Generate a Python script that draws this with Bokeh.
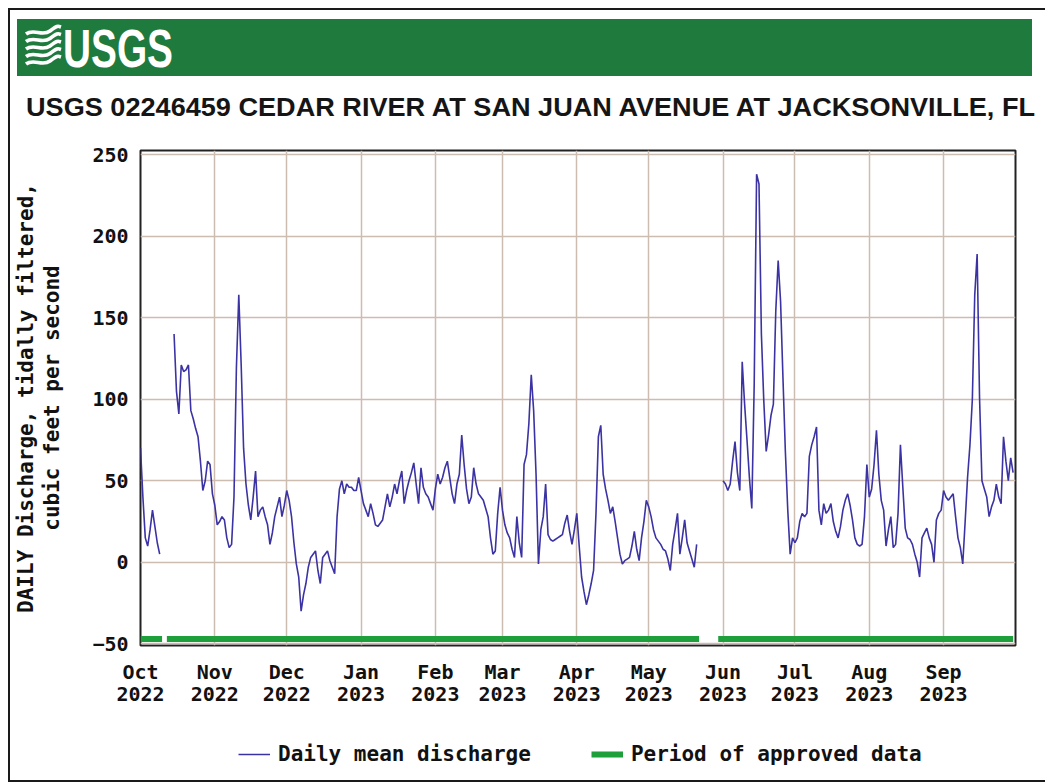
import numpy as np
import pandas as pd
from bokeh.plotting import figure
from bokeh.layouts import column
from bokeh.models import (Range1d, FixedTicker, DatetimeTickFormatter, Legend,
                          LegendItem, DatetimeAxis, LinearAxis, Div)
from bokeh.embed import file_html
from bokeh.resources import INLINE

nan = float("nan")

# ---------------- data (daily mean discharge, ft3/s) ----------------
oct_2022 = [70, 40, 15, 10, 20, 32, 22, 12, 5, nan, nan, nan, nan, nan,
            140, 105, 91, 121, 117, 118, 121, 93, 88, 82, 77, 62, 44, 50, 62, 60, 42]
nov_2022 = [35, 23, 25, 28, 26, 15, 9, 11, 40, 119, 164, 121, 70, 48, 35, 26, 40, 56,
            28, 32, 34, 28, 23, 11, 18, 28, 34, 40, 28, 35]
dec_2022 = [44, 38, 28, 12, -1, -9, -30, -20, -13, -3, 3, 5, 7, -5, -13, 3, 5, 7, 1,
            -3, -7, 28, 45, 50, 42, 48, 46, 46, 44, 44, 52]
jan_2023 = [44, 36, 32, 28, 36, 30, 23, 22, 24, 26, 34, 42, 34, 40, 48, 42, 50, 56,
            36, 44, 50, 55, 61, 48, 36, 58, 46, 42, 40, 36, 32]
feb_2023 = [45, 54, 48, 52, 58, 62, 52, 42, 36, 48, 54, 78, 60, 45, 36, 40, 58, 48,
            42, 40, 38, 33, 28, 15, 5, 7, 30, 46]
mar_2023 = [32, 23, 18, 15, 8, 3, 28, 12, 3, 60, 66, 85, 115, 93, 54, -1, 20, 28, 48,
            17, 14, 13, 14, 15, 16, 17, 24, 29, 19, 11, 20]
apr_2023 = [30, 10, -9, -18, -26, -20, -13, -5, 30, 77, 84, 54, 45, 38, 30, 34, 25,
            15, 5, -1, 1, 2, 3, 10, 19, 8, 1, 15, 25, 38]
may_2023 = [34, 28, 20, 15, 13, 11, 8, 7, 2, -5, 11, 20, 30, 5, 15, 26, 12, 7, 2, -3,
            11, nan, nan, nan, nan, nan, nan, nan, nan, nan, nan]
jun_2023 = [50, 48, 44, 48, 62, 74, 55, 44, 123, 97, 75, 52, 33, 109, 238, 232, 140,
            99, 68, 78, 90, 97, 154, 185, 160, 113, 68, 32, 5, 15]
jul_2023 = [12, 15, 25, 30, 28, 30, 65, 72, 77, 83, 32, 23, 36, 30, 32, 36, 25, 19,
            15, 22, 32, 38, 42, 35, 26, 15, 11, 10, 11, 28, 60]
aug_2023 = [40, 45, 60, 81, 54, 38, 32, 10, 20, 28, 9, 11, 30, 72, 46, 21, 15, 14, 11,
            5, 0, -9, 15, 18, 21, 15, 11, 0, 26, 30, 32]
sep_2023 = [44, 40, 38, 40, 42, 28, 15, 9, -1, 25, 52, 72, 100, 164, 189, 101, 50, 45,
            40, 28, 34, 38, 48, 40, 36, 77, 62, 50, 64, 55]

discharge = (oct_2022 + nov_2022 + dec_2022 + jan_2023 + feb_2023 + mar_2023 +
             apr_2023 + may_2023 + jun_2023 + jul_2023 + aug_2023 + sep_2023)
dates = pd.date_range("2022-10-01", periods=len(discharge), freq="D")

approved_start = pd.to_datetime(["2022-10-01", "2022-10-12", "2023-05-30"])
approved_end = pd.to_datetime(["2022-10-10", "2023-05-22", "2023-09-30"])

month_ticks = pd.date_range("2022-10-01", "2023-09-01", freq="MS")
y_ticks = [-50, 0, 50, 100, 150, 200, 250]

TITLE = "USGS 02246459 CEDAR RIVER AT SAN JUAN AVENUE AT JACKSONVILLE, FL"
Y_LABEL_1 = "DAILY Discharge, tidally filtered,"
Y_LABEL_2 = "cubic feet per second"
LEGEND_LINE = "Daily mean discharge"
LEGEND_BAR = "Period of approved data"

# ---------------- styling ----------------
W = 1035
MONO = "DejaVu Sans Mono"
HEADER_GREEN = "#1f7a3e"
LINE_COLOR = "#3b33a3"
BAR_GREEN = "#1f9e3c"
GRID_COLOR = "#cdbcb0"
TEXT = "#111111"
BL, BR = 130, 30

# ---------------- header (green band, logo, title) ----------------
waves = ""
for k in range(5):
    y0 = 22 + 7.5 * k
    waves += ('<path d="M16,{a:.1f} C24,{b:.1f} 32,{c:.1f} 40,{d:.1f} S48,{e:.1f} 51,{f:.1f}" '
              'stroke="white" stroke-width="3.6" fill="none"/>').format(
        a=y0 + 2, b=y0 - 4, c=y0 + 5, d=y0 - 1, e=y0 - 6, f=y0 - 5)
header_svg = (
    '<svg xmlns="http://www.w3.org/2000/svg" width="{w}" height="120" '
    'style="display:block">'
    '<rect x="0" y="0" width="{w}" height="120" fill="white"/>'
    '<rect x="7" y="9" width="1015" height="57" fill="{g}"/>'
    '{waves}'
    '<text x="53" y="57" font-family="Liberation Sans Narrow" font-weight="bold" '
    'font-size="54" fill="white" textLength="110" lengthAdjust="spacingAndGlyphs">USGS</text>'
    '<text x="16" y="106" font-family="Liberation Sans" font-weight="bold" '
    'font-size="25.5" fill="#151515" textLength="1009" '
    'lengthAdjust="spacingAndGlyphs">{t}</text>'
    '</svg>').format(w=W, g=HEADER_GREEN, waves=waves, t=TITLE)
header = Div(text=header_svg, width=W, height=120,
             styles={"margin": "0", "padding": "0"})

# ---------------- main plot ----------------
p = figure(width=W, height=581, x_axis_type="datetime",
           x_range=Range1d(start=pd.Timestamp("2022-10-01"), end=pd.Timestamp("2023-10-01")),
           y_range=Range1d(-51, 252.5),
           toolbar_location=None, output_backend="svg",
           min_border_left=BL, min_border_right=BR, min_border_top=20,
           min_border_bottom=66)
p.background_fill_color = "white"
p.border_fill_color = "white"
p.outline_line_color = "#222222"
p.outline_line_width = 2

r_line = p.line(x=dates, y=discharge, line_color=LINE_COLOR, line_width=1.6)
r_bar = p.segment(x0=approved_start, x1=approved_end, y0=-47, y1=-47,
                  line_color=BAR_GREEN, line_width=6)

tick_ms = [t.value / 1e6 for t in month_ticks]
p.xaxis.ticker = FixedTicker(ticks=tick_ms)
p.xaxis.formatter = DatetimeTickFormatter(days="%b", months="%b", years="%b")
year_axis = DatetimeAxis(ticker=FixedTicker(ticks=tick_ms),
                         formatter=DatetimeTickFormatter(days="%Y", months="%Y",
                                                         years="%Y"))
p.add_layout(year_axis, "below")

p.yaxis.ticker = FixedTicker(ticks=y_ticks)
p.yaxis.axis_label = Y_LABEL_2
label_axis = LinearAxis(ticker=FixedTicker(ticks=[]), axis_label=Y_LABEL_1)
p.add_layout(label_axis, "left")

for ax in (p.xaxis[0], year_axis, p.yaxis[0], label_axis):
    ax.axis_line_color = None
    ax.major_tick_line_color = None
    ax.minor_tick_line_color = None
    ax.major_tick_out = 0
    ax.major_tick_in = 0
    ax.minor_tick_out = 0
    ax.major_label_text_font = MONO
    ax.major_label_text_font_style = "bold"
    ax.major_label_text_font_size = "20px"
    ax.major_label_text_color = TEXT
    ax.axis_label_text_font = MONO
    ax.axis_label_text_font_style = "bold"
    ax.axis_label_text_font_size = "21px"
    ax.axis_label_text_color = TEXT
p.xaxis[0].major_label_standoff = 14
year_axis.major_label_standoff = 0
p.yaxis[0].major_label_standoff = 12
p.yaxis[0].axis_label_standoff = 25
label_axis.axis_label_standoff = 0
label_axis.major_label_standoff = 0

p.xgrid.grid_line_color = GRID_COLOR
p.ygrid.grid_line_color = GRID_COLOR
p.xgrid.grid_line_width = 1.5
p.ygrid.grid_line_width = 1.5

# ---------------- footer legend ----------------
foot = figure(width=W, height=69, x_range=Range1d(0, 1), y_range=Range1d(0, 1),
              toolbar_location=None, output_backend="svg",
              min_border_left=BL, min_border_right=BR, min_border_top=0,
              min_border_bottom=0)
foot.axis.visible = False
foot.grid.visible = False
foot.outline_line_color = None
foot.background_fill_color = "white"
foot.border_fill_color = "white"
leg_line = foot.line(x=[nan], y=[nan], line_color=LINE_COLOR, line_width=1.6)
leg_bar = foot.line(x=[nan], y=[nan], line_color=BAR_GREEN, line_width=6)
legend = Legend(items=[LegendItem(label=LEGEND_LINE, renderers=[leg_line]),
                       LegendItem(label=LEGEND_BAR, renderers=[leg_bar])],
                orientation="horizontal", location=(98, 14))
legend.label_text_font = MONO
legend.label_text_font_style = "bold"
legend.label_text_font_size = "21px"
legend.label_text_color = TEXT
legend.border_line_color = None
legend.background_fill_alpha = 0
legend.glyph_width = 32
legend.label_standoff = 8
legend.spacing = 60
legend.padding = 4
legend.margin = 0
foot.add_layout(legend)

layout = column(header, p, foot, spacing=0, margin=(8, 0, 0, 8),
                styles={"border-left": "2px solid #1a1a1a",
                        "border-top": "2px solid #1a1a1a",
                        "border-bottom": "2px solid #1a1a1a",
                        "background-color": "white"})

open("out.html", "w").write(file_html(layout, INLINE))
